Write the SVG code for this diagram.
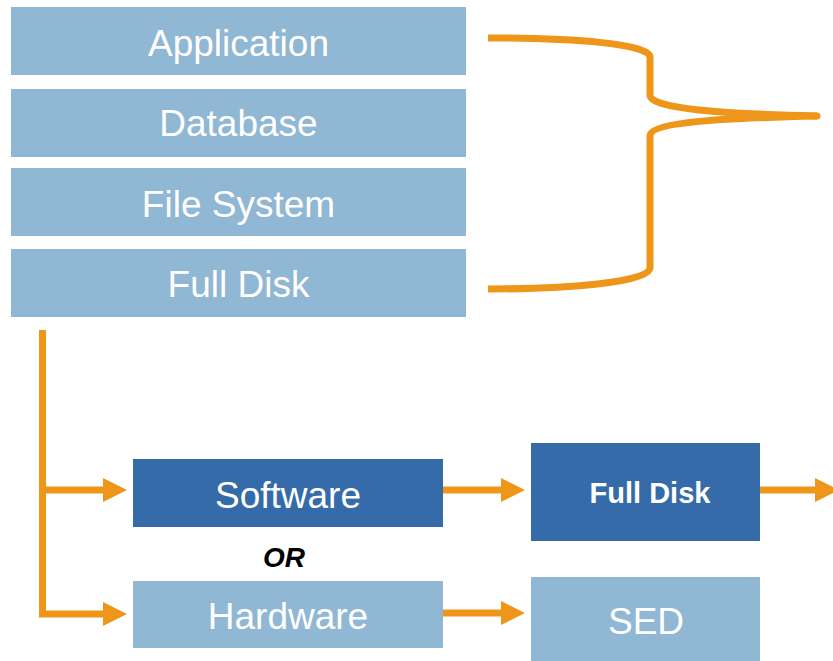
<svg xmlns="http://www.w3.org/2000/svg" width="833" height="661" viewBox="0 0 833 661">
  <style>
    .light { fill: #90B7D3; }
    .dark { fill: #356BA8; }
    .lbl { font-family: "Liberation Sans", Arial, sans-serif; fill: #FFFFFF; text-anchor: middle; font-size: 37px; }
    .bold { font-weight: bold; font-size: 29px; }
    .or { font-family: "Liberation Sans", Arial, sans-serif; font-weight: bold; font-style: italic; font-size: 28px; fill: #000000; text-anchor: middle; }
    .wire { fill: none; stroke: #EE961A; stroke-width: 7; }
  </style>
  <defs>
    <marker id="head" markerUnits="userSpaceOnUse" markerWidth="24" markerHeight="24" refX="0" refY="12" orient="auto" overflow="visible">
      <path d="M0,0 L24,12 L0,24 Z" fill="#EE961A"/>
    </marker>
  </defs>
  <rect width="833" height="661" fill="#FFFFFF"/>

  <!-- encryption layers -->
  <g id="application">
    <rect class="light" x="11" y="7" width="455" height="68"/>
    <text class="lbl" x="238.5" y="56">Application</text>
  </g>
  <g id="database">
    <rect class="light" x="11" y="89" width="455" height="68"/>
    <text class="lbl" x="238.5" y="136">Database</text>
  </g>
  <g id="file-system">
    <rect class="light" x="11" y="168" width="455" height="68"/>
    <text class="lbl" x="238.5" y="217">File System</text>
  </g>
  <g id="full-disk-layer">
    <rect class="light" x="11" y="249" width="455" height="68"/>
    <text class="lbl" x="238.5" y="297">Full Disk</text>
  </g>

  <!-- implementation choices -->
  <g id="software">
    <rect class="dark" x="133" y="459" width="310" height="68"/>
    <text class="lbl" x="288" y="508">Software</text>
  </g>
  <g id="or-label">
    <text class="or" x="284" y="567">OR</text>
  </g>
  <g id="hardware">
    <rect class="light" x="133" y="581" width="310" height="67"/>
    <text class="lbl" x="288" y="629">Hardware</text>
  </g>
  <g id="full-disk">
    <rect class="dark" x="531" y="443" width="229" height="98"/>
    <text class="lbl bold" x="650" y="503">Full Disk</text>
  </g>
  <g id="sed">
    <rect class="light" x="531" y="577" width="229" height="90"/>
    <text class="lbl" x="646" y="634">SED</text>
  </g>

  <g id="connectors">
    <!-- brace joining the four layers -->
    <path class="wire" d="M488,38 C575,38 650,44 650,57 L650,95 C650,109 725,114 817,116"/>
    <path class="wire" d="M817,116 C725,118 650,122 650,136 L650,268 C650,282 570,289 488,289"/>
    <circle cx="817" cy="116" r="3.5" fill="#EE961A"/>
    <!-- branch to software / hardware -->
    <path class="wire" d="M42.5,330 L42.5,614 L103,614" stroke-linejoin="miter" marker-end="url(#head)"/>
    <path class="wire" d="M42.5,490 L103,490" marker-end="url(#head)"/>
    <path class="wire" d="M443,490 L501,490" marker-end="url(#head)"/>
    <path class="wire" d="M443,613 L501,613" marker-end="url(#head)"/>
    <path class="wire" d="M760,490 L815,490" marker-end="url(#head)"/>
  </g>
</svg>
